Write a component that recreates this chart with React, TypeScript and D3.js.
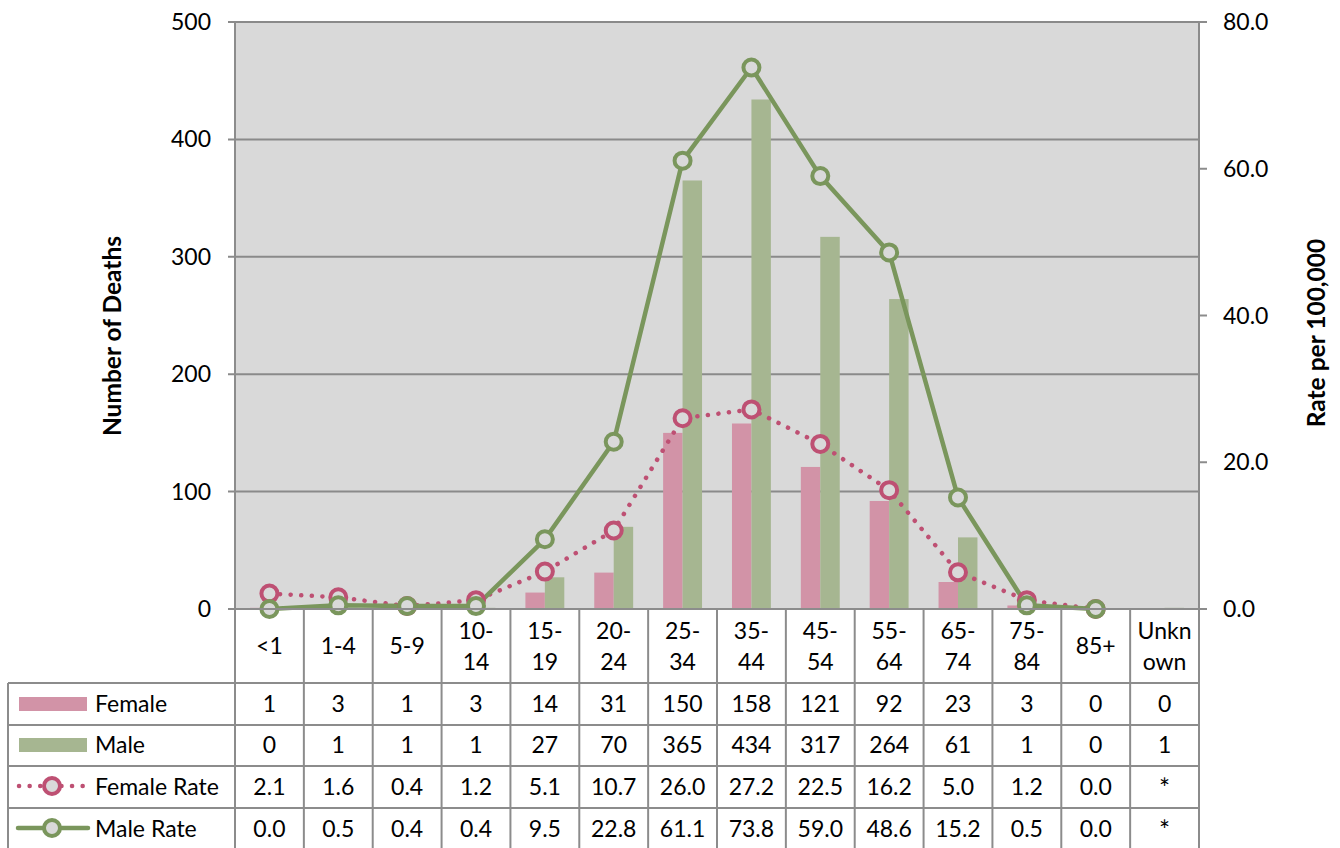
import * as d3 from "d3";

// chart data
const ageGroups = ["<1", "1-4", "5-9", "10-14", "15-19", "20-24", "25-34", "35-44", "45-54", "55-64", "65-74", "75-84", "85+", "Unknown"];
const ageLabels = [["<1"], ["1-4"], ["5-9"], ["10-", "14"], ["15-", "19"], ["20-", "24"], ["25-", "34"], ["35-", "44"], ["45-", "54"], ["55-", "64"], ["65-", "74"], ["75-", "84"], ["85+"], ["Unkn", "own"]];
const femaleDeaths = [1, 3, 1, 3, 14, 31, 150, 158, 121, 92, 23, 3, 0, 0];
const maleDeaths = [0, 1, 1, 1, 27, 70, 365, 434, 317, 264, 61, 1, 0, 1];
const femaleRate: (number | null)[] = [2.1, 1.6, 0.4, 1.2, 5.1, 10.7, 26.0, 27.2, 22.5, 16.2, 5.0, 1.2, 0.0, null];
const maleRate: (number | null)[] = [0.0, 0.5, 0.4, 0.4, 9.5, 22.8, 61.1, 73.8, 59.0, 48.6, 15.2, 0.5, 0.0, null];
const deathTicks = [0, 100, 200, 300, 400, 500];
const rateTicks = [0, 20, 40, 60, 80];

const W = 1340;
const H = 848;
const FONT = "Lato, 'Open Sans', sans-serif";

const COL = {
  female: "#D293A7",
  male: "#A6B691",
  femaleLine: "#BE5073",
  maleLine: "#7A965C",
  plotBg: "#D9D9D9",
  grid: "#8A8A8A",
  border: "#8C8C8C",
};

export default function App() {
  const left = 235, right = 1199, top = 22, bottom = 609;
  const tableLeft = 8;
  const rowLines = [683, 725, 766, 808, 850];

  const x = d3.scaleBand<string>().domain(ageGroups).range([left, right]).padding(0);
  const xs = d3.scaleBand<string>().domain(["Female", "Male"]).range([0, x.bandwidth()]).paddingInner(0).paddingOuter(0.77);
  const yL = d3.scaleLinear().domain([0, 500]).range([bottom, top]);
  const yR = d3.scaleLinear().domain([0, 80]).range([bottom, top]);
  const cx = (i: number) => (x(ageGroups[i]) as number) + x.bandwidth() / 2;

  const lineGen = d3.line<number | null>()
    .defined(d => d !== null)
    .x((_, i) => cx(i))
    .y(d => yR(d as number));

  const fmtRate = (v: number | null) => (v === null ? "*" : d3.format(".1f")(v));

  const tableRows = [
    { name: "Female", values: femaleDeaths.map(String) },
    { name: "Male", values: maleDeaths.map(String) },
    { name: "Female Rate", values: femaleRate.map(fmtRate) },
    { name: "Male Rate", values: maleRate.map(fmtRate) },
  ];

  const marker = (px: number, py: number, color: string, key: string) => (
    <circle key={key} cx={px} cy={py} r={8} fill={COL.plotBg} stroke={color} strokeWidth={4} />
  );

  return (
    <svg width={W} height={H} style={{ position: "absolute", left: 0, top: 0, background: "#fff" }} fontFamily={FONT}>
      {/* plot area */}
      <rect x={left} y={top} width={right - left} height={bottom - top} fill={COL.plotBg} />
      {deathTicks.map(t => (
        <line key={"g" + t} x1={left - 7} x2={right} y1={yL(t)} y2={yL(t)} stroke={COL.grid} strokeWidth={2} />
      ))}
      {rateTicks.map(t => (
        <line key={"rt" + t} x1={right} x2={right + 8} y1={yR(t)} y2={yR(t)} stroke={COL.border} strokeWidth={2} />
      ))}
      <line x1={left} x2={left} y1={top} y2={bottom} stroke={COL.border} strokeWidth={2} />
      <line x1={right} x2={right} y1={top} y2={bottom} stroke={COL.border} strokeWidth={2} />

      {/* bars */}
      {ageGroups.map((g, i) => (
        <g key={"b" + g}>
          <rect x={(x(g) as number) + (xs("Female") as number)} width={xs.bandwidth()}
            y={yL(femaleDeaths[i])} height={bottom - yL(femaleDeaths[i])} fill={COL.female} />
          <rect x={(x(g) as number) + (xs("Male") as number)} width={xs.bandwidth()}
            y={yL(maleDeaths[i])} height={bottom - yL(maleDeaths[i])} fill={COL.male} />
        </g>
      ))}

      {/* rate lines */}
      <path d={lineGen(femaleRate) || ""} fill="none" stroke={COL.femaleLine} strokeWidth={4.5}
        strokeDasharray="0.1 10.5" strokeLinecap="round" />
      <path d={lineGen(maleRate) || ""} fill="none" stroke={COL.maleLine} strokeWidth={4.5} strokeLinejoin="round" />
      {femaleRate.map((v, i) => (v === null ? null : marker(cx(i), yR(v), COL.femaleLine, "fm" + i)))}
      {maleRate.map((v, i) => (v === null ? null : marker(cx(i), yR(v), COL.maleLine, "mm" + i)))}

      {/* axis labels */}
      {deathTicks.map(t => (
        <text key={"lt" + t} x={211} y={yL(t)} dy="0.35em" textAnchor="end" fontSize={23} fill="#000">{t}</text>
      ))}
      {rateTicks.map(t => (
        <text key={"rl" + t} x={1223} y={yR(t)} dy="0.35em" textAnchor="start" fontSize={23} fill="#000">{d3.format(".1f")(t)}</text>
      ))}
      <text transform={`translate(112,336) rotate(-90)`} textAnchor="middle" dy="0.35em"
        fontSize={24.5} fontWeight="bold" fill="#000">Number of Deaths</text>
      <text transform={`translate(1316,333) rotate(-90)`} textAnchor="middle" dy="0.35em"
        fontSize={24.5} fontWeight="bold" fill="#000">Rate per 100,000</text>

      {/* data table */}
      {ageGroups.map((g, i) => (
        <line key={"v" + g} x1={x(g)} x2={x(g)} y1={bottom} y2={H} stroke={COL.border} strokeWidth={2} />
      ))}
      <line x1={right} x2={right} y1={bottom} y2={H} stroke={COL.border} strokeWidth={2} />
      <line x1={left} x2={right} y1={bottom} y2={bottom} stroke={COL.border} strokeWidth={2} />
      <line x1={tableLeft} x2={tableLeft} y1={rowLines[0]} y2={H} stroke={COL.border} strokeWidth={2} />
      {rowLines.slice(0, 4).map(ry => (
        <line key={"h" + ry} x1={tableLeft} x2={right} y1={ry} y2={ry} stroke={COL.border} strokeWidth={2} />
      ))}

      {ageLabels.map((lines, i) => (
        <text key={"hl" + i} x={cx(i)} textAnchor="middle" fontSize={23} fill="#000">
          {lines.map((l, j) => (
            <tspan key={j} x={cx(i)} y={lines.length === 1 ? 646 : 631 + j * 31} dy="0.35em">{l}</tspan>
          ))}
        </text>
      ))}

      {tableRows.map((row, r) => {
        const cy = (rowLines[r] + rowLines[r + 1]) / 2 - 0.5;
        return (
          <g key={"row" + row.name}>
            {row.values.map((v, i) => (
              <text key={i} x={cx(i)} y={cy + (v === "*" ? 2 : 0)} dy="0.35em" textAnchor="middle"
                fontSize={v === "*" ? 26 : 23} fill="#000">{v}</text>
            ))}
            <text x={95} y={cy} dy="0.35em" fontSize={23} fill="#000">{row.name}</text>
          </g>
        );
      })}

      {/* legend keys */}
      <rect x={19} y={697} width={68} height={14} fill={COL.female} />
      <rect x={19} y={738} width={68} height={14} fill={COL.male} />
      <line x1={19} x2={87} y1={786} y2={786} stroke={COL.femaleLine} strokeWidth={4.5} strokeDasharray="0.1 10.5" strokeLinecap="round" />
      {marker(52, 786, COL.femaleLine, "lgf")}
      <line x1={18} x2={88} y1={828} y2={828} stroke={COL.maleLine} strokeWidth={4.5} strokeLinecap="round" />
      {marker(52, 828, COL.maleLine, "lgm")}
    </svg>
  );
}
